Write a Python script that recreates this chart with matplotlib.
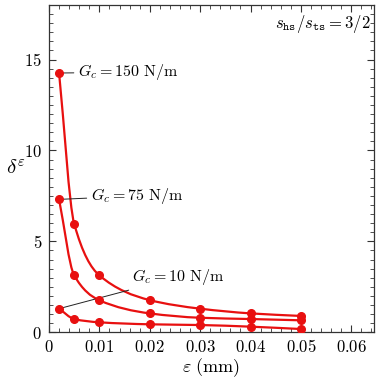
import numpy as np
import matplotlib
matplotlib.use("Agg")
import matplotlib.pyplot as plt
from matplotlib.path import Path
from matplotlib.patches import PathPatch
from matplotlib.ticker import MultipleLocator, FuncFormatter

plt.rcParams['mathtext.fontset'] = 'cm'
plt.rcParams['font.family'] = ['DejaVu Serif']

eps = [0.002, 0.005, 0.01, 0.02, 0.03, 0.04, 0.05]
delta_150 = [14.26, 5.97, 3.13, 1.77, 1.30, 1.04, 0.90]
delta_75 = [7.31, 3.13, 1.76, 1.04, 0.80, 0.73, 0.66]
delta_10 = [1.30, 0.73, 0.55, 0.44, 0.40, 0.31, 0.18]
labels = [r'$G_c = 150\ \mathrm{N/m}$', r'$G_c = 75\ \mathrm{N/m}$', r'$G_c = 10\ \mathrm{N/m}$']
label_pos = [(0.00575, 14.3), (0.0083, 7.5), (0.0165, 3.04)]

RED = '#e81010'


def smooth_path(x, y):
    x = np.asarray(x, float)
    y = np.asarray(y, float)
    h = np.diff(x)
    d = np.diff(y) / h
    n = len(x)
    m = np.zeros(n)
    m[0] = d[0]
    m[-1] = d[-1]
    for i in range(1, n - 1):
        if d[i - 1] * d[i] <= 0:
            m[i] = 0
        else:
            w1 = 2 * h[i] + h[i - 1]
            w2 = h[i] + 2 * h[i - 1]
            m[i] = (w1 + w2) / (w1 / d[i - 1] + w2 / d[i])
    verts = [(x[0], y[0])]
    codes = [Path.MOVETO]
    for i in range(n - 1):
        verts += [(x[i] + h[i] / 3, y[i] + m[i] * h[i] / 3),
                  (x[i + 1] - h[i] / 3, y[i + 1] - m[i + 1] * h[i] / 3),
                  (x[i + 1], y[i + 1])]
        codes += [Path.CURVE4] * 3
    return Path(verts, codes)


fig = plt.figure(figsize=(3.81, 3.79), dpi=100)
ax = fig.add_axes([0.1286, 0.1232, 0.8530, 0.8636])

for ys, lab, pos in zip([delta_150, delta_75, delta_10], labels, label_pos):
    ax.add_patch(PathPatch(smooth_path(eps, ys), facecolor='none', edgecolor=RED, lw=1.6, zorder=3))
    ax.plot(eps, ys, 'o', color=RED, ms=5.5, zorder=4)
    ax.annotate(lab, xy=(eps[0], ys[0]), xytext=pos, fontsize=11.5, va='center', ha='left',
                arrowprops=dict(arrowstyle='-', color='#222222', lw=0.7, shrinkA=1, shrinkB=3))

ax.set_xlim(0, 0.0645)
ax.set_ylim(0, 18)
ax.xaxis.set_major_locator(MultipleLocator(0.01))
ax.xaxis.set_minor_locator(MultipleLocator(0.002))
ax.yaxis.set_major_locator(MultipleLocator(5))
ax.yaxis.set_minor_locator(MultipleLocator(0.5))
fmt = FuncFormatter(lambda v, p: r'$%s$' % ('0' if abs(v) < 1e-12 else ('%g' % round(v, 4))))
ax.xaxis.set_major_formatter(fmt)
ax.yaxis.set_major_formatter(fmt)
ax.tick_params(which='both', direction='in', top=True, right=True, color='#333333', labelsize=12)
ax.tick_params(which='major', length=5, width=0.8, pad=5)
ax.tick_params(which='minor', length=3, width=0.6)
for s in ax.spines.values():
    s.set_color('#333333')
    s.set_linewidth(0.9)

ax.set_xlabel(r'$\varepsilon\ (\mathrm{mm})$', fontsize=13, labelpad=0)
ax.set_ylabel(r'$\delta^{\varepsilon}$', fontsize=15, rotation=0, labelpad=6, va='center')
ax.text(0.99, 0.975, r'$s_{\mathtt{hs}}/s_{\mathtt{ts}} = 3/2$', transform=ax.transAxes,
        ha='right', va='top', fontsize=12)

fig.savefig('out.png', dpi=100)
